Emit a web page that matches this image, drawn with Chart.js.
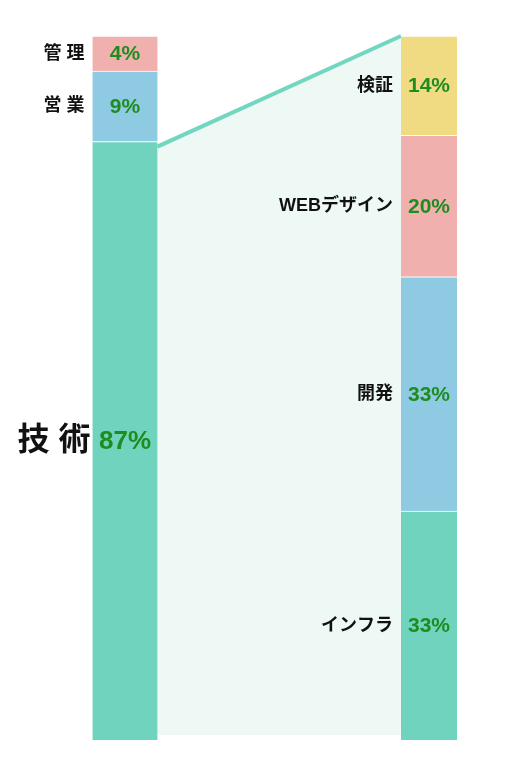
<!DOCTYPE html>
<html>
<head>
<meta charset="utf-8">
<script src="https://cdn.jsdelivr.net/npm/chart.js@4"></script>
<style>
  html, body { margin: 0; padding: 0; background: #fff; }
  #wrap { width: 523px; height: 757px; }
</style>
</head>
<body>
<div id="wrap"><canvas id="c"></canvas></div>
<script>
// left bar (bottom to top): drawn heights as in the picture, printed labels
const leftNames = ['技 術', '営 業', '管 理'];
const leftValues = [85, 10, 5];
const leftLabels = ['87%', '9%', '4%'];
const leftColors = ['#70d3bd', '#8fcae3', '#f0b0ae'];
// right bar (bottom to top)
const rightNames = ['インフラ', '開発', 'WEBデザイン', '検証'];
const rightValues = [32.5, 33.3, 20.1, 14.1];
const rightLabels = ['33%', '33%', '20%', '14%'];
const rightColors = ['#70d3bd', '#8fcae3', '#f0b0ae', '#f0db82'];

const datasets = [];
leftValues.forEach((v, i) => datasets.push({
    label: leftNames[i], data: [v, null, null], backgroundColor: leftColors[i],
    borderColor: '#fff', borderWidth: { top: 1 }, barThickness: 65, side: 'L', idx: i, txt: leftLabels[i]
}));
rightValues.forEach((v, i) => datasets.push({
    label: rightNames[i], data: [null, null, v], backgroundColor: rightColors[i],
    borderColor: '#fff', borderWidth: { top: 1 }, barThickness: 56, side: 'R', idx: i, txt: rightLabels[i]
}));

// connecting area + labels
const barOfBar = {
    id: 'barOfBar',
    beforeDatasetsDraw(chart) {
        const ctx = chart.ctx;
        const big = chart.getDatasetMeta(0).data[0];
        const topR = chart.getDatasetMeta(datasets.length - 1).data[2];
        const botR = chart.getDatasetMeta(leftValues.length).data[2];
        const x1 = big.x + big.width / 2, x2 = topR.x - topR.width / 2;
        ctx.save();
        ctx.fillStyle = '#eef9f6';
        ctx.beginPath();
        ctx.moveTo(x1, big.y + 2);
        ctx.lineTo(x2, topR.y);
        ctx.lineTo(x2, botR.base - 5);
        ctx.lineTo(x1, botR.base - 5);
        ctx.closePath();
        ctx.fill();
        ctx.strokeStyle = '#72d6c0';
        ctx.lineWidth = 4;
        ctx.beginPath();
        ctx.moveTo(x1, big.y + 5);
        ctx.lineTo(x2, topR.y);
        ctx.stroke();
        ctx.restore();
    },
    afterDatasetsDraw(chart) {
        const ctx = chart.ctx;
        ctx.save();
        ctx.textBaseline = 'middle';
        chart.data.datasets.forEach((ds, di) => {
            const el = chart.getDatasetMeta(di).data[ds.side === 'L' ? 0 : 2];
            const cy = (el.y + el.base) / 2;
            const big = ds.side === 'L' && ds.idx === 0;
            ctx.font = 'bold ' + (big ? 26 : 21) + 'px "Liberation Sans", "Noto Sans CJK JP", sans-serif';
            ctx.fillStyle = '#1f8c1f';
            ctx.textAlign = 'center';
            ctx.fillText(ds.txt, el.x, cy + 1);
            ctx.font = 'bold ' + (big ? 32 : 18) + 'px "Liberation Sans", "Noto Sans CJK JP", sans-serif';
            ctx.fillStyle = '#111';
            ctx.textAlign = 'right';
            ctx.fillText(ds.label, el.x - el.width / 2 - (big ? 2 : 8), cy);
        });
        ctx.restore();
    }
};

new Chart(document.getElementById('c'), {
    type: 'bar',
    data: { labels: ['a', 'b', 'c'], datasets: datasets },
    options: {
        responsive: true,
        maintainAspectRatio: false,
        animation: false,
        layout: { padding: { left: 49, right: 18, top: 36, bottom: 17 } },
        plugins: { legend: { display: false }, tooltip: { enabled: false } },
        scales: {
            x: { stacked: true, display: false },
            y: { stacked: true, display: false, min: 0, max: 100 }
        }
    },
    plugins: [barOfBar]
});
</script>
</body>
</html>
